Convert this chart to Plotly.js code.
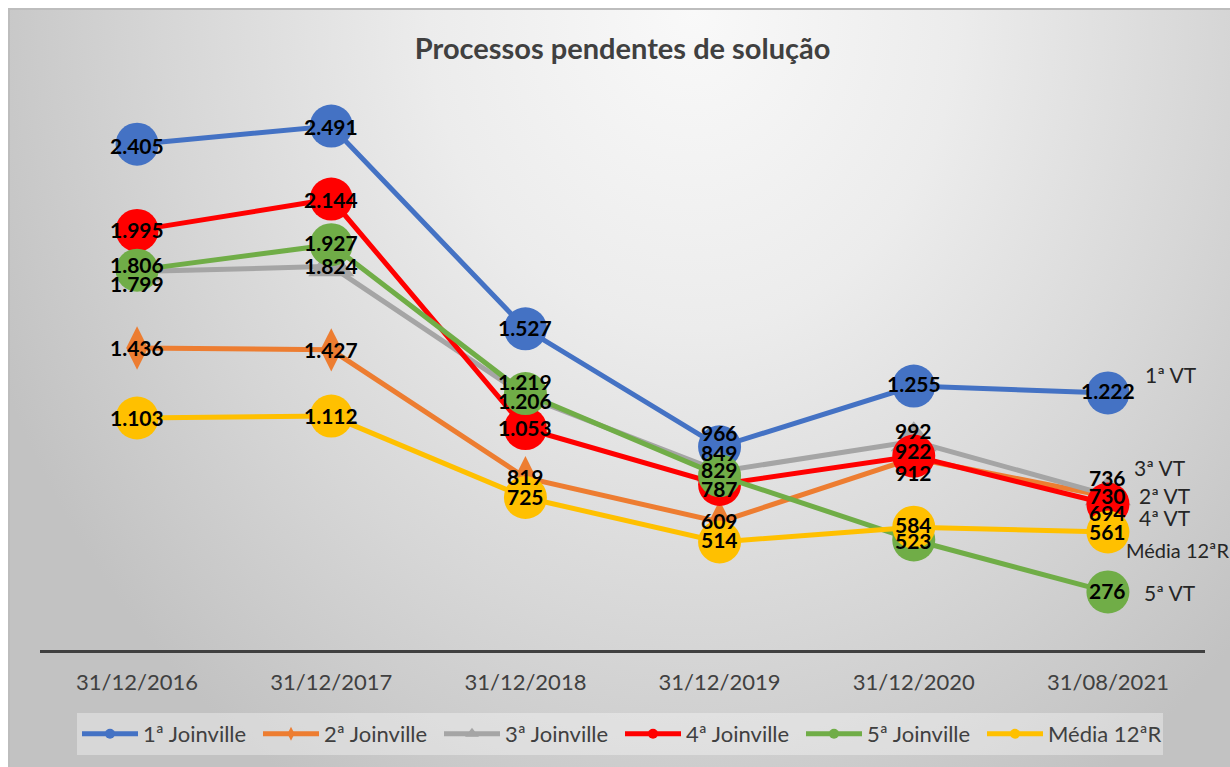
<!DOCTYPE html>
<html><head><meta charset="utf-8">
<script src="https://cdn.plot.ly/plotly-3.0.1.min.js"></script>
<style>
html,body{margin:0;padding:0;background:#fff;width:1230px;height:767px;overflow:hidden;}
#frame{position:absolute;left:8px;top:8px;width:1222px;height:759px;box-sizing:border-box;border-top:2px solid #bdbdbd;border-left:2px solid #bdbdbd;
background:radial-gradient(ellipse 62% 120% at 56% 0%, #f9f9f9 0%, #ececec 35%, #d6d6d6 70%, #c2c2c2 100%);}
#chart{position:absolute;left:8px;top:8px;width:1222px;height:759px;}
</style></head><body><div id="frame"></div><div id="chart"></div>
<script>
// ---- data ----
const categories = ['31/12/2016', '31/12/2017', '31/12/2018', '31/12/2019', '31/12/2020', '31/08/2021'];
const joinville1 = [2405, 2491, 1527, 966, 1255, 1222];
const joinville2 = [1436, 1427, 819, 609, 912, 730];
const joinville3 = [1799, 1824, 1206, 849, 992, 736];
const joinville4 = [1995, 2144, 1053, 787, 922, 694];
const joinville5 = [1806, 1927, 1219, 829, 523, 276];
const media12R = [1103, 1112, 725, 514, 584, 561];
const seriesNames = ['1ª Joinville', '2ª Joinville', '3ª Joinville', '4ª Joinville', '5ª Joinville', 'Média 12ªR'];
const endTags = ['1ª VT', '2ª VT', '3ª VT', '4ª VT', '5ª VT', 'Média 12ªR'];
const chartTitle = 'Processos pendentes de solução';

// ---- styles ----
const allSeries = [joinville1, joinville2, joinville3, joinville4, joinville5, media12R];
const colors = ['#4472C4', '#ED7D31', '#A5A5A5', '#FF0000', '#70AD47', '#FFC000'];
const symbols = ['circle', 'diamond-tall', 'triangle-up', 'circle', 'circle', 'circle'];
const markerSizes = [43, 31, 40, 43, 43, 43];
// per-label vertical nudges (px, positive = downward) to mimic the original label placement
const labelNudge = [
  [3, 2, 1, -12, -1, 0],
  [2, 2, 1, 1, 16, 1],
  [14, 1, 6, -17, -9, -16],
  [1, 2, 1, 6, -4, 10],
  [-4, 0, -10, -4, 2, 1],
  [1, 1, 1, 0, -1, 1]
];
// end tag offsets relative to last point (px): [xshift, yshift-down]
const tagOffset = [[35, -18], [29, -1], [24, -28], [29, 13], [34, 1], [16, 18]];
const tagSizes = [21, 21, 21, 21, 21, 20];

const FONT = 'Lato, "Open Sans", sans-serif';
function fmt(v) {
  return v >= 1000 ? Math.floor(v / 1000) + '.' + String(v % 1000).padStart(3, '0') : String(v);
}

const traces = [];
allSeries.forEach((vals, s) => {
  traces.push({
    x: categories, y: vals, type: 'scatter', mode: 'lines+markers',
    name: seriesNames[s], showlegend: false, cliponaxis: false,
    line: {color: colors[s], width: 5},
    marker: {color: colors[s], size: markerSizes[s], symbol: symbols[s], line: {width: 0}}
  });
});
// legend entries (small markers like the original legend)
allSeries.forEach((vals, s) => {
  traces.push({
    x: [null], y: [null], type: 'scatter', mode: 'lines+markers',
    name: seriesNames[s], showlegend: true,
    line: {color: colors[s], width: 5},
    marker: {color: colors[s], size: s === 2 ? 12 : 10, symbol: symbols[s]}
  });
});

const annotations = [];
allSeries.forEach((vals, s) => {
  vals.forEach((v, i) => {
    annotations.push({
      x: categories[i], y: v, xref: 'x', yref: 'y', text: fmt(v), showarrow: false,
      yshift: -labelNudge[s][i] + 2,
      font: {family: FONT, size: 21, color: '#000000', weight: 700}
    });
  });
  const last = vals.length - 1;
  annotations.push({
    x: categories[last], y: vals[last], xref: 'x', yref: 'y', text: endTags[s], showarrow: false,
    xanchor: 'left', xshift: tagOffset[s][0], yshift: -tagOffset[s][1],
    font: {family: FONT, size: tagSizes[s], color: '#262626'}
  });
});

const layout = {
  width: 1222, height: 759,
  paper_bgcolor: 'rgba(0,0,0,0)', plot_bgcolor: 'rgba(0,0,0,0)',
  margin: {l: 32, r: 25, t: 11, b: 117, autoexpand: false},
  title: {text: chartTitle, x: 0.503, xref: 'container', xanchor: 'center', y: 0.946, yref: 'container', yanchor: 'middle',
          font: {family: FONT, size: 29, color: '#404040', weight: 700}},
  xaxis: {type: 'category', range: [-0.5, 5.5], showgrid: false, zeroline: false, showline: true,
          linecolor: '#404040', linewidth: 3, ticks: '', ticklabelstandoff: 11,
          tickfont: {family: FONT, size: 22, color: '#404040'}, fixedrange: true},
  yaxis: {range: [0, 3000], visible: false, showgrid: false, zeroline: false, fixedrange: true},
  showlegend: true,
  legend: {orientation: 'h', x: (77 - 40) / 1165, xanchor: 'left', y: (650 - 713) / 631, yanchor: 'top',
           bgcolor: 'rgba(255,255,255,0.35)', borderwidth: 0,
           font: {family: FONT, size: 22, color: '#404040'}, itemwidth: 56,
           entrywidth: 110, entrywidthmode: 'pixels'},
  annotations: annotations
};
Plotly.newPlot('chart', traces, layout, {displayModeBar: false, staticPlot: true});
</script></body></html>
